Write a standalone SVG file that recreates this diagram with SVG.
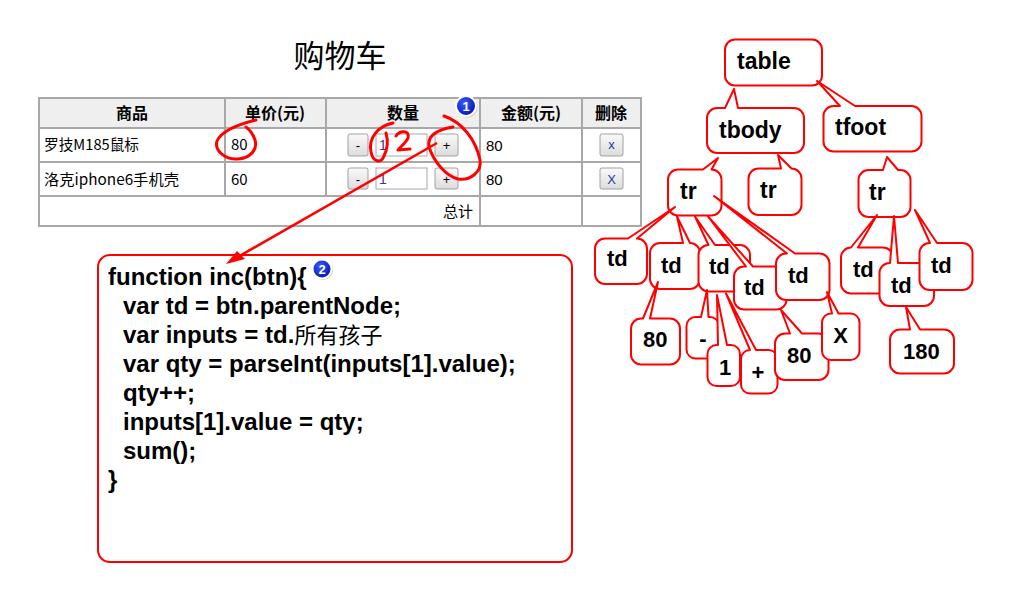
<svg xmlns="http://www.w3.org/2000/svg" width="1024" height="602" viewBox="0 0 1024 602">
<defs>
<style>
.cjk{font-family:"Noto Sans CJK SC","Liberation Sans",sans-serif}
.hd{font-family:"Noto Sans CJK SC",sans-serif;font-weight:bold;font-size:16px;fill:#000;text-anchor:middle}
.cell{font-family:"Noto Sans CJK SC","Liberation Mono",monospace;font-size:15px;fill:#000}
.num{font-family:"Liberation Sans",sans-serif;font-size:15px;fill:#000}
.grid{stroke:#a8a8a8;stroke-width:2;fill:none}
.btn{fill:url(#btnG);stroke:#a0a0a0;stroke-width:1}
.btxt{font-family:"Liberation Sans",sans-serif;font-size:13px;fill:#000;text-anchor:middle}
.inp{fill:#fff;stroke:#a8a8a8;stroke-width:1}
.node{fill:#fff;stroke:#ff0000;stroke-width:2;stroke-linejoin:round}
.lbl{font-family:"Liberation Sans",Arial,sans-serif;font-weight:bold;font-size:22px;fill:#000}
.lbl2{font-family:"Liberation Sans",Arial,sans-serif;font-weight:bold;font-size:23px;fill:#000}
.mid{text-anchor:middle}
.code{font-family:"Liberation Sans",Arial,sans-serif;font-weight:bold;font-size:24px;fill:#000}
.ink{fill:none;stroke:#ff0000;stroke-width:3;stroke-linecap:round;stroke-linejoin:round}
.bub{fill:url(#bubG);stroke:#fff;stroke-width:2}
.btx{font-family:"Liberation Sans",sans-serif;font-weight:bold;font-size:13px;fill:#fff;text-anchor:middle}
</style>
<linearGradient id="btnG" x1="0" y1="0" x2="0" y2="1"><stop offset="0" stop-color="#fafafa"/><stop offset="1" stop-color="#dcdcdc"/></linearGradient>
<radialGradient id="bubG" cx="0.4" cy="0.35" r="0.7"><stop offset="0" stop-color="#3a5cff"/><stop offset="1" stop-color="#0010b0"/></radialGradient>
</defs>
<rect width="1024" height="602" fill="#fff"/>

<g id="cart">
<text x="340" y="67" class="cjk" font-size="31" text-anchor="middle" fill="#000">购物车</text>
<rect x="39" y="98" width="602" height="30" fill="#efefef"/>
<rect x="39" y="98" width="602" height="128" class="grid"/>
<line x1="39" y1="128" x2="641" y2="128" class="grid"/>
<line x1="39" y1="162" x2="641" y2="162" class="grid"/>
<line x1="39" y1="196" x2="641" y2="196" class="grid"/>
<line x1="225" y1="98" x2="225" y2="196" class="grid"/>
<line x1="326" y1="98" x2="326" y2="196" class="grid"/>
<line x1="480" y1="98" x2="480" y2="226" class="grid"/>
<line x1="582" y1="98" x2="582" y2="226" class="grid"/>
<text x="132" y="119" class="hd">商品</text>
<text x="275" y="119" class="hd">单价(元)</text>
<text x="403" y="119" class="hd">数量</text>
<text x="531" y="119" class="hd">金额(元)</text>
<text x="611" y="119" class="hd">删除</text>
<text x="44" y="150" class="cell" textLength="95" lengthAdjust="spacingAndGlyphs">罗技M185鼠标</text>
<text x="44" y="185" class="cell" textLength="135" lengthAdjust="spacingAndGlyphs">洛克iphone6手机壳</text>
<text x="231" y="150" class="cell">80</text>
<text x="231" y="185" class="cell">60</text>
<rect x="348" y="134" width="20" height="22" rx="2" class="btn" stroke="#7aa7e0"/>
<text x="358" y="150" class="btxt">-</text>
<rect x="376" y="134" width="51" height="22" class="inp"/>
<text x="379" y="150" class="num" style="fill:#5a2a8a;font-size:14px">1</text>
<rect x="435" y="134" width="23" height="22" rx="2" class="btn"/>
<text x="446.5" y="150" class="btxt">+</text>
<text x="486" y="151" class="num">80</text>
<rect x="600" y="134" width="23" height="22" rx="2" class="btn"/>
<text x="611.5" y="149" class="btxt" style="fill:#1a3da0">x</text>
<rect x="348" y="168" width="20" height="21" rx="2" class="btn"/>
<text x="358" y="184" class="btxt">-</text>
<rect x="376" y="168" width="51" height="21" class="inp"/>
<text x="379" y="184" class="num" style="fill:#5a2a8a;font-size:14px">1</text>
<rect x="435" y="168" width="23" height="21" rx="2" class="btn"/>
<text x="446.5" y="184" class="btxt">+</text>
<text x="486" y="185" class="num">80</text>
<rect x="600" y="168" width="23" height="21" rx="2" class="btn"/>
<text x="611.5" y="184" class="btxt" style="fill:#1a3da0">X</text>
<text x="473" y="217" class="cell" text-anchor="end">总计</text>
</g>

<g id="code-box">
<rect x="98" y="255" width="474" height="307" rx="12" fill="#fff" stroke="#ff0000" stroke-width="2"/>
<text class="code" x="108" y="285">function inc(btn){</text>
<text class="code" x="123" y="314">var td = btn.parentNode;</text>
<text class="code" x="123" y="343">var inputs = td.<tspan font-family="Noto Sans CJK SC" font-weight="normal" font-size="22">所有孩子</tspan></text>
<text class="code" x="123" y="372">var qty = parseInt(inputs[1].value);</text>
<text class="code" x="123" y="401">qty++;</text>
<text class="code" x="123" y="430">inputs[1].value = qty;</text>
<text class="code" x="123" y="459">sum();</text>
<text class="code" x="108" y="488">}</text>
</g>

<g id="n-table"><rect x="725" y="39.5" width="97" height="46" rx="10" class="node"/><text x="737" y="69" class="lbl2">table</text></g>
<g id="n-tbody"><path class="node" d="M717,108 L725,108 L734,89 L738,108 L794,108 A10,10 0 0 1 804,118 L804,143 A10,10 0 0 1 794,153 L717,153 A10,10 0 0 1 707,143 L707,118 A10,10 0 0 1 717,108 Z"/><text x="719" y="138" class="lbl2">tbody</text></g>
<g id="n-tfoot"><path class="node" d="M833.5,106 L840,106 L817,81 L855,106 L911.5,106 A10,10 0 0 1 921.5,116 L921.5,141.5 A10,10 0 0 1 911.5,151.5 L833.5,151.5 A10,10 0 0 1 823.5,141.5 L823.5,116 A10,10 0 0 1 833.5,106 Z"/><text x="835" y="135" class="lbl2">tfoot</text></g>
<g id="n-tr1"><path class="node" d="M678,169.5 L703,169.5 L718,158 L711.5,169.5 A10,10 0 0 1 721.5,179.5 L721.5,205.5 A10,10 0 0 1 711.5,215.5 L678,215.5 A10,10 0 0 1 668,205.5 L668,179.5 A10,10 0 0 1 678,169.5 Z"/><text x="680" y="199" class="lbl2">tr</text></g>
<g id="n-tr2"><path class="node" d="M758.5,168.5 L781,168.5 L778,155 L791.5,168.5 A10,10 0 0 1 801.5,178.5 L801.5,205 A10,10 0 0 1 791.5,215 L758.5,215 A10,10 0 0 1 748.5,205 L748.5,178.5 A10,10 0 0 1 758.5,168.5 Z"/><text x="760" y="198" class="lbl2">tr</text></g>
<g id="n-tr3"><path class="node" d="M868.5,170 L883,170 L887,157 L898,170 L900.5,170 A10,10 0 0 1 910.5,180 L910.5,207 A10,10 0 0 1 900.5,217 L868.5,217 A10,10 0 0 1 858.5,207 L858.5,180 A10,10 0 0 1 868.5,170 Z"/><text x="869" y="200" class="lbl2">tr</text></g>

<g id="n-td1"><path class="node" d="M605,238.5 L628,238.5 L675,207 L637,238.5 A10,10 0 0 1 647,248.5 L647,274 A10,10 0 0 1 637,284 L605,284 A10,10 0 0 1 595,274 L595,248.5 A10,10 0 0 1 605,238.5 Z"/><text x="607" y="266" class="lbl">td</text></g>
<g id="n-td2"><path class="node" d="M660,243 L683,243 L677,216.5 L690,243 A10,10 0 0 1 700,253 L700,279 A10,10 0 0 1 690,289 L660,289 A10,10 0 0 1 650,279 L650,253 A10,10 0 0 1 660,243 Z"/><text x="661" y="273" class="lbl">td</text></g>
<g id="n-td3"><path class="node" d="M708.5,245 L708.5,245 L695,216.5 L715,245 L740,245 A10,10 0 0 1 750,255 L750,281.5 A10,10 0 0 1 740,291.5 L708.5,291.5 A10,10 0 0 1 698.5,281.5 L698.5,255 A10,10 0 0 1 708.5,245 Z"/><text x="709" y="274" class="lbl">td</text></g>
<g id="n-td4"><path class="node" d="M744,266.5 L746,266.5 L708,216.5 L753,266.5 L776.5,266.5 A10,10 0 0 1 786.5,276.5 L786.5,299.5 A10,10 0 0 1 776.5,309.5 L744,309.5 A10,10 0 0 1 734,299.5 L734,276.5 A10,10 0 0 1 744,266.5 Z"/><text x="744" y="295" class="lbl">td</text></g>
<g id="n-td5"><path class="node" d="M786,253.5 L787,253.5 L714,196 L795,253.5 L819.5,253.5 A10,10 0 0 1 829.5,263.5 L829.5,290 A10,10 0 0 1 819.5,300 L786,300 A10,10 0 0 1 776,290 L776,263.5 A10,10 0 0 1 786,253.5 Z"/><text x="788" y="283" class="lbl">td</text></g>
<g id="n-80a"><path class="node" d="M641,318.5 L643,318.5 L658,282 L650,318.5 L670,318.5 A10,10 0 0 1 680,328.5 L680,354.5 A10,10 0 0 1 670,364.5 L641,364.5 A10,10 0 0 1 631,354.5 L631,328.5 A10,10 0 0 1 641,318.5 Z"/><text x="643" y="347" class="lbl">80</text></g>
<g id="n-minus"><path class="node" d="M695.5,317 L701,317 L707,290 L708.5,317 L710,317 A9,9 0 0 1 719,326 L719,349.5 A9,9 0 0 1 710,358.5 L695.5,358.5 A9,9 0 0 1 686.5,349.5 L686.5,326 A9,9 0 0 1 695.5,317 Z"/><text x="703" y="346" class="lbl mid">-</text></g>
<g id="n-one"><path class="node" d="M716.5,345 L718,345 L717,295 L727,345 L731,345 A9,9 0 0 1 740,354 L740,377 A9,9 0 0 1 731,386 L716.5,386 A9,9 0 0 1 707.5,377 L707.5,354 A9,9 0 0 1 716.5,345 Z"/><text x="725" y="375" class="lbl mid">1</text></g>
<g id="n-plus"><path class="node" d="M750,350 L750,350 L726,293.5 L756,350 L768.5,350 A9,9 0 0 1 777.5,359 L777.5,384.5 A9,9 0 0 1 768.5,393.5 L750,393.5 A9,9 0 0 1 741,384.5 L741,359 A9,9 0 0 1 750,350 Z"/><text x="758" y="380" class="lbl mid">+</text></g>
<g id="n-80b"><path class="node" d="M785,333.5 L790,333.5 L781,310 L802,333.5 L818.5,333.5 A10,10 0 0 1 828.5,343.5 L828.5,370 A10,10 0 0 1 818.5,380 L785,380 A10,10 0 0 1 775,370 L775,343.5 A10,10 0 0 1 785,333.5 Z"/><text x="787" y="363" class="lbl">80</text></g>
<g id="n-x"><path class="node" d="M831,313.5 L832,313.5 L827,292 L838.5,313.5 L850.5,313.5 A9,9 0 0 1 859.5,322.5 L859.5,351 A9,9 0 0 1 850.5,360 L831,360 A9,9 0 0 1 822,351 L822,322.5 A9,9 0 0 1 831,313.5 Z"/><text x="840.5" y="343" class="lbl mid">X</text></g>
<g id="n-tdA"><path class="node" d="M851,247.5 L851,247.5 L877,215 L858,247.5 L883,247.5 A10,10 0 0 1 893,257.5 L893,283.5 A10,10 0 0 1 883,293.5 L851,293.5 A10,10 0 0 1 841,283.5 L841,257.5 A10,10 0 0 1 851,247.5 Z"/><text x="853" y="277" class="lbl">td</text></g>
<g id="n-tdB"><path class="node" d="M889.5,263 L890,263 L894,216 L898,263 L924,263 A10,10 0 0 1 934,273 L934,296 A10,10 0 0 1 924,306 L889.5,306 A10,10 0 0 1 879.5,296 L879.5,273 A10,10 0 0 1 889.5,263 Z"/><text x="891" y="293" class="lbl">td</text></g>
<g id="n-tdC"><path class="node" d="M929.5,243 L930,243 L915,210 L937,243 L962.5,243 A10,10 0 0 1 972.5,253 L972.5,280 A10,10 0 0 1 962.5,290 L929.5,290 A10,10 0 0 1 919.5,280 L919.5,253 A10,10 0 0 1 929.5,243 Z"/><text x="931" y="273" class="lbl">td</text></g>
<g id="n-180"><path class="node" d="M900,329.5 L910,329.5 L906,307 L920,329.5 L944,329.5 A10,10 0 0 1 954,339.5 L954,363.5 A10,10 0 0 1 944,373.5 L900,373.5 A10,10 0 0 1 890,363.5 L890,339.5 A10,10 0 0 1 900,329.5 Z"/><text x="903" y="359" class="lbl">180</text></g>

<g id="connectors">
<path class="ink" d="M256,120 C240,124 222,130 217,141 C214,151 226,160 238,159 C250,158 258,150 255,140 C253,134 250,130 246,127"/>
<path class="ink" d="M393,123 C378,126 368,138 371,152 C373,162 381,164 384,156 C388,148 388,140 386,133"/>
<path class="ink" d="M396,136 C400,130 410,130 408,138 C406,143 400,147 398,150 L410,149"/>
<path class="ink" d="M444,116 C462,122 476,140 480,160 C482,172 470,181 458,179 C446,176 434,162 429,147 C427,136 436,130 453,127"/>
<line x1="437" y1="143" x2="236" y2="258" stroke="#ff0000" stroke-width="2.5"/>
<polygon points="226,264 237,251 245,259" fill="#ff0000"/>
</g>

<g id="badge-1"><circle cx="467" cy="107" r="10.5" fill="#999" opacity="0.5"/><circle cx="466" cy="106" r="10" class="bub"/><text x="466" y="111" class="btx">1</text></g>
<g id="badge-2"><circle cx="323" cy="270" r="10" fill="#999" opacity="0.5"/><circle cx="322" cy="269" r="9.5" class="bub"/><text x="322" y="274" class="btx">2</text></g>
</svg>
